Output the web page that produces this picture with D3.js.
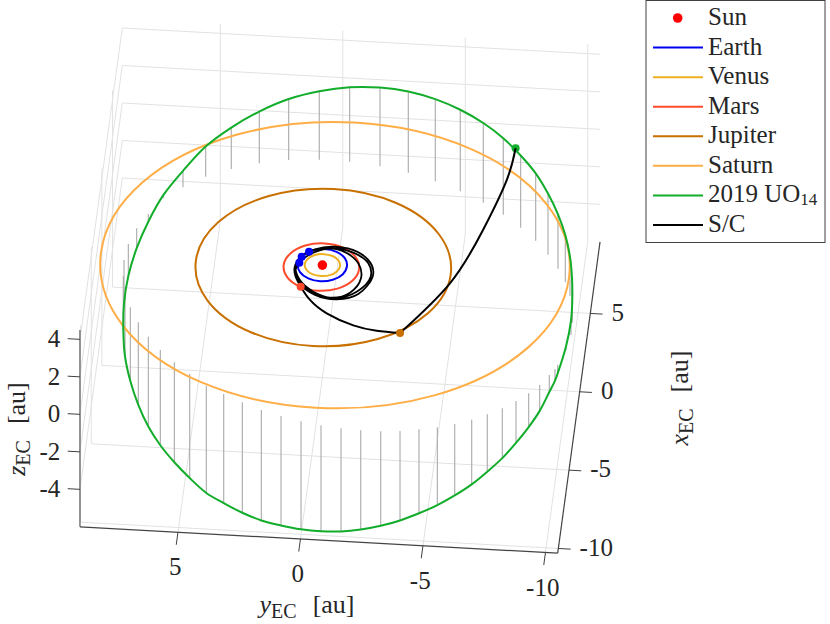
<!DOCTYPE html>
<html><head><meta charset="utf-8">
<script src="https://cdn.jsdelivr.net/npm/d3@7"></script>
<style>html,body{margin:0;padding:0;background:#fff}svg{display:block}text{font-family:"Liberation Serif",serif;fill:#262626}</style>
</head><body><svg id="c" width="830" height="624"></svg>
<script>
const xTicks=[-10,-5,0,5], yTicks=[-10,-5,0,5], zTicks=[-4,-2,0,2,4];
const xLim=[-10.3,9.57], yLim=[-10.5,9], zLim=[-6,4.5];
const legendNames=["Sun","Earth","Venus","Mars","Jupiter","Saturn","2019 UO","S/C"];

const earthX=[1.03,.89,.52,0,-.52,-.89,-1.03,-.89,-.52,0,.52,.89];
const earthY=[0,.5,.87,1,.87,.5,0,-.5,-.87,-1,-.87,-.5];
const venusX=[.7,.61,.35,0,-.35,-.61,-.7,-.61,-.35,0,.35,.61];
const venusY=[0,.36,.62,.72,.62,.36,0,-.36,-.62,-.72,-.62,-.36];
const marsX=[1.38,1.18,.63,-.13,-.89,-1.44,-1.64,-1.44,-.89,-.13,.63,1.18];
const marsY=[.03,.8,1.36,1.57,1.36,.8,.03,-.74,-1.3,-1.51,-1.3,-.74];
const jupiterX=[4.86,4.19,2.36,-.15,-2.66,-4.49,-5.16,-4.49,-2.66,-.15,2.36,4.19];
const jupiterY=[-.05,2.55,4.45,5.15,4.45,2.55,-.05,-2.65,-4.55,-5.25,-4.55,-2.65];
const saturnX=[9.14,7.92,4.59,.04,-4.51,-7.84,-9.06,-7.84,-4.51,.04,4.59,7.92];
const saturnY=[-.51,4.27,7.76,9.04,7.76,4.27,-.51,-5.29,-8.78,-10.06,-8.78,-5.29];

const uoX=[6.665,6.645,6.459,6.153,5.702,5.155,4.514,3.823,3.061,2.289,1.446,.594,-.241,-1.093,-1.91,-2.776,-3.56,-4.527,-5.507,-5.769,-6.169,-6.836,-7.4,-7.932,-8.442,-8.874,-9.271,-9.603,-9.873,-10.063,-10.237,-10.324,-10.33,-10.272,-10.152,-9.969,-9.702,-9.391,-8.97,-8.508,-8.044,-7.361,-6.674,-5.944,-5.143,-4.266,-3.343,-2.393,-1.385,-.369,.659,1.683,2.629,3.695,4.441,5.192,5.769,6.228,6.539];
const uoY=[.707,-.536,-1.789,-2.971,-4.112,-5.179,-6.174,-7.05,-7.827,-8.507,-9.082,-9.564,-9.935,-10.2,-10.353,-10.441,-10.456,-10.336,-10.082,-9.995,-9.798,-9.464,-9.063,-8.592,-8.077,-7.502,-6.9,-6.236,-5.549,-4.818,-4.058,-3.278,-2.462,-1.652,-.826,.006,.846,1.677,2.489,3.288,4.039,4.776,5.463,6.099,6.658,7.143,7.549,7.849,8.006,8.065,7.979,7.726,7.335,6.815,6.076,5.215,4.22,3.117,1.944];
const uoZ=[3.65,3.97,4.2,4.33,4.38,4.35,4.25,4.08,3.85,3.59,3.26,2.9,2.52,2.1,1.68,1.21,.76,.18,-.45,-.62,-.91,-1.38,-1.8,-2.23,-2.66,-3.06,-3.45,-3.81,-4.15,-4.48,-4.77,-5.04,-5.29,-5.5,-5.65,-5.76,-5.84,-5.89,-5.89,-5.82,-5.72,-5.55,-5.33,-5.08,-4.79,-4.4,-3.93,-3.44,-2.89,-2.32,-1.71,-1.06,-.41,.15,.88,1.61,2.21,2.76,3.25];

const loopsX=[.462,-.192,-.982,-1.714,-2.03,-1.649,-.703,.238,.982,1.066,.805,.282,-.408,-1.235,-1.919,-2.118,-1.704,-.557,.179,.934,1.212,.973,.462,-.299,-1.129,-1.813,-2.039,-1.563,-.564,.273,.896,1.095,.756,.074,-.617,-1.441];
const loopsY=[.886,1.074,.856,.221,-.555,-1.27,-1.636,-1.446,-.701,.054,.616,1.006,1.109,.834,.135,-.767,-1.615,-2.1,-1.996,-1.385,-.409,.386,.886,1.079,.843,.144,-.692,-1.535,-2.019,-1.851,-1.185,-.283,.436,.948,1.064,.762];
const toJupiterX=[-1.441,-2.25,-3.04,-3.71,-3.97,-4.03];
const toJupiterY=[.762,.31,-.44,-1.585,-2.56,-3.52];
const toUoX=[-4.03,-1.78,.41,2.11,3.29];
const toUoY=[-3.52,-5.36,-6.52,-7.34,-7.6];
const toUoZ=[0,.9,2,3.3,4.03];

const earthDotX=[.805,.462,.074], earthDotY=[.616,.886,.948];
const marsDot=[-1.441,.762,0], jupiterDot=[-4.03,-3.52,0], uoDot=[3.29,-7.6,4.03], sunDot=[0,0,0];

const colors={Earth:"#0000f5",Venus:"#edb120",Mars:"#ff4b2b",Jupiter:"#c87000",Saturn:"#ffae47",UO:"#12ad2b",SC:"#000",Sun:"#ff0000"};

const svg=d3.select("#c");
// orthographic view: each data axis contributes one linear scale per screen direction
const xH=d3.scaleLinear([-10,10],[-21.3,21.3]), xV=d3.scaleLinear([-10,10],[156.7,-156.7]);
const yH=d3.scaleLinear([-10,10],[245,-245]),  yV=d3.scaleLinear([-10,10],[13.5,-13.5]);
const zV=d3.scaleLinear([-10,10],[187.5,-187.5]);
const sx=(x,y,z)=>322.4+xH(x)+yH(y);
const sy=(x,y,z)=>265.1+xV(x)+yV(y)+zV(z);
const P=(x,y,z)=>[sx(x,y,z),sy(x,y,z)];
const seg=(g,a,b,col,w)=>g.append("line").attr("x1",a[0]).attr("y1",a[1]).attr("x2",b[0]).attr("y2",b[1]).attr("stroke",col).attr("stroke-width",w);

const grid=svg.append("g");const gc="#e2e2e2";
const [x0,x1]=xLim,[y0,y1]=yLim,[z0,z1]=zLim;
xTicks.forEach(t=>{seg(grid,P(t,y0,z0),P(t,y1,z0),gc,1);seg(grid,P(t,y1,z0),P(t,y1,z1),gc,1);});
yTicks.forEach(t=>{seg(grid,P(x0,t,z0),P(x1,t,z0),gc,1);seg(grid,P(x1,t,z0),P(x1,t,z1),gc,1);});
zTicks.forEach(t=>{seg(grid,P(x0,y1,t),P(x1,y1,t),gc,1);seg(grid,P(x1,y1,t),P(x1,y0,t),gc,1);});

const stems=svg.append("g");
uoX.forEach((v,i)=>seg(stems,P(v,uoY[i],0),P(v,uoY[i],uoZ[i]),"#a9a9a9",1.1));

const mk=c=>d3.line().x(d=>sx(d[0],d[1],d[2])).y(d=>sy(d[0],d[1],d[2])).curve(c);
const ellipse=mk(d3.curveCardinalClosed.tension(-.053));
const smooth=mk(d3.curveCatmullRomClosed.alpha(.5));
const spiral=mk(d3.curveCatmullRom.alpha(.5));
const leg=mk(d3.curveNatural);
const flat=(X,Y)=>X.map((v,i)=>[v,Y[i],0]);
const orbit=(pts,col,gen,w=2)=>svg.append("path").attr("d",gen(pts)).attr("fill","none").attr("stroke",col).attr("stroke-width",w);
orbit(flat(earthX,earthY),colors.Earth,ellipse);
orbit(flat(venusX,venusY),colors.Venus,ellipse);
orbit(flat(marsX,marsY),colors.Mars,ellipse);
orbit(flat(jupiterX,jupiterY),colors.Jupiter,ellipse);
orbit(flat(saturnX,saturnY),colors.Saturn,ellipse);
orbit(uoX.map((v,i)=>[v,uoY[i],uoZ[i]]),colors.UO,smooth);

const dot=(p,col,r)=>svg.append("circle").attr("cx",sx(...p)).attr("cy",sy(...p)).attr("r",r).attr("fill",col);
dot(uoDot,colors.UO,4);
orbit(flat(loopsX,loopsY),colors.SC,spiral,1.8);
orbit(flat(toJupiterX,toJupiterY),colors.SC,leg);
orbit(toUoX.map((v,i)=>[v,toUoY[i],toUoZ[i]]),colors.SC,leg);
dot(sunDot,colors.Sun,4.8);
earthDotX.forEach((v,i)=>dot([v,earthDotY[i],0],colors.Earth,4));
dot(marsDot,colors.Mars,4);dot(jupiterDot,colors.Jupiter,4);

const axc="#404040";const ax=svg.append("g");
seg(ax,P(x0,y1,z0),P(x0,y1,z1),"#555",1.2);
seg(ax,P(x0,y1,z0),P(x0,y0,z0),"#444",1.2);
seg(ax,P(x0,y0,z0),P(x1,y0,z0),"#444",1.2);
const fs=25;
const lab=(x,y,t,anchor)=>svg.append("text").attr("x",x).attr("y",y).attr("text-anchor",anchor).attr("dominant-baseline","central").attr("font-size",fs).text(t);
yTicks.forEach(t=>{const a=P(x0,t,z0),b=P(x0-.8,t,z0);seg(ax,a,b,axc,1);lab(b[0]-1,b[1]+22,t,"middle");});
xTicks.forEach(t=>{const a=P(t,y0,z0),b=P(t,y0-.5,z0);seg(ax,a,b,axc,1);lab(b[0]+9,b[1]-2,t,"start");});
zTicks.forEach(t=>{const a=P(x0,y1,t),b=P(x0,y1+.5,t);seg(ax,a,b,axc,1);lab(b[0]-7.5,b[1],t,"end");});

function axisLabel(x,y,rot,sym){
  const t=svg.append("text").attr("transform",`translate(${x},${y}) rotate(${rot})`).attr("text-anchor","middle").attr("font-size",26);
  t.append("tspan").attr("font-style","italic").text(sym);
  t.append("tspan").attr("font-size",20).attr("dy",5).text("EC");
  t.append("tspan").attr("dy",-5).attr("dx",16).text("[au]");
}
axisLabel(307,613,0,"y");
axisLabel(25,429,-90,"z");
axisLabel(688,398,-90,"x");

// legend
const lg=svg.append("g");
lg.append("rect").attr("x",646).attr("y",.5).attr("width",179).attr("height",242).attr("fill","#fff").attr("stroke","#404040").attr("stroke-width",1);
const ly=d3.scalePoint(legendNames,[18,225]);
const lc=[colors.Sun,colors.Earth,colors.Venus,colors.Mars,colors.Jupiter,colors.Saturn,colors.UO,colors.SC];
legendNames.forEach((n,i)=>{
  const y=ly(n);
  if(i==0) lg.append("circle").attr("cx",677.7).attr("cy",y).attr("r",4.8).attr("fill",lc[i]);
  else seg(lg,[653,y],[703,y],lc[i],2);
  const t=lg.append("text").attr("x",708).attr("y",y-1.5).attr("dominant-baseline","central").attr("font-size",25).text(n);
  if(n==="2019 UO") t.append("tspan").attr("font-size",17).attr("dy",5).text("14");
});
</script></body></html>
